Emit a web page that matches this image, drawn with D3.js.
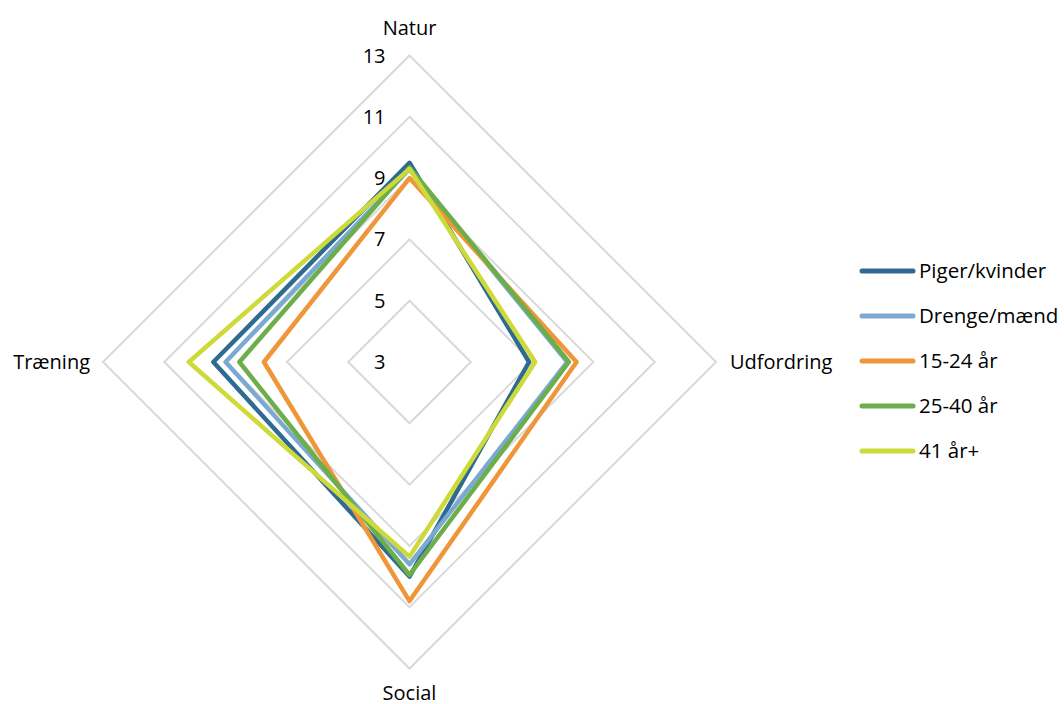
<!DOCTYPE html>
<html>
<head>
<meta charset="utf-8">
<script src="https://cdn.jsdelivr.net/npm/d3@7"></script>
<style>
  body { margin: 0; background: #fff; }
  svg { font-family: "Open Sans", sans-serif; }
</style>
</head>
<body>
<div id="grafRadar"></div>
<script>
// kategorier (akser) i urets retning fra toppen
const kategorier = ["Natur", "Udfordring", "Social", "Træning"]
const serier = ["Piger/kvinder", "Drenge/mænd", "15-24 år", "25-40 år", "41 år+"]
const farver = ["#2F6B91", "#7BA9D2", "#F0963A", "#6BAE4A", "#CDDA3A"]

// værdier pr. serie, samme rækkefølge som kategorier
const pigerKvinder = [9.5, 6.9, 10.0, 9.4]
const drengeMaend = [9.3, 8.15, 9.6, 9.0]
const aar15_24 = [9.0, 8.45, 10.8, 7.75]
const aar25_40 = [9.35, 8.2, 9.95, 8.55]
const aar41plus = [9.3, 7.1, 9.35, 10.2]

const ticks = [3, 5, 7, 9, 11, 13]

const data = [pigerKvinder, drengeMaend, aar15_24, aar25_40, aar41plus]

const W = 1064, H = 704
const cx = 409.5, cy = 362

const svg = d3.select("#grafRadar")
  .append("svg")
  .attr("width", W)
  .attr("height", H)

const g = svg.append("g").attr("transform", `translate(${cx}, ${cy})`)

const r = d3.scaleLinear().domain([3, 13]).range([0, 306.5])
const angulo = d3.scalePoint().domain(kategorier).range([0, 2 * Math.PI * 3 / 4])

const punkt = (cat, v) => {
  const a = angulo(cat) - Math.PI / 2
  return [Math.cos(a) * r(v), Math.sin(a) * r(v)]
}

const linje = d3.line().curve(d3.curveLinearClosed)

// gitter
g.selectAll(".ring")
  .data(ticks.slice(1))
  .enter()
  .append("path")
  .attr("class", "ring")
  .attr("d", (t) => linje(kategorier.map((c) => punkt(c, t))))
  .attr("fill", "none")
  .attr("stroke", "#D9D9D9")
  .attr("stroke-width", 2)

// tick labels
g.selectAll(".tick")
  .data(ticks)
  .enter()
  .append("text")
  .attr("class", "tick")
  .attr("x", -24)
  .attr("y", (t) => -r(t))
  .attr("dy", "0.35em")
  .attr("text-anchor", "end")
  .attr("font-size", 20)
  .attr("fill", "#000")
  .text((t) => t)

// serier
g.selectAll(".serie")
  .data(data)
  .enter()
  .append("path")
  .attr("class", "serie")
  .attr("d", (d) => linje(kategorier.map((c, i) => punkt(c, d[i]))))
  .attr("fill", "none")
  .attr("stroke", (d, i) => farver[i])
  .attr("stroke-width", 4.5)
  .attr("stroke-linejoin", "round")

// akse-navne
const labelPos = {
  "Natur": { x: 0, y: -r(13) - 28, anchor: "middle" },
  "Udfordring": { x: r(13) + 14, y: 0, anchor: "start" },
  "Social": { x: 0, y: r(13) + 24, anchor: "middle" },
  "Træning": { x: -r(13) - 13, y: 0, anchor: "end" }
}
g.selectAll(".kat")
  .data(kategorier)
  .enter()
  .append("text")
  .attr("class", "kat")
  .attr("x", (d) => labelPos[d].x)
  .attr("y", (d) => labelPos[d].y)
  .attr("dy", "0.35em")
  .attr("text-anchor", (d) => labelPos[d].anchor)
  .attr("font-size", 20)
  .text((d) => d)

// legend
const legend = svg.append("g").attr("transform", "translate(860, 271)")
const leg = legend.selectAll(".leg")
  .data(serier)
  .enter()
  .append("g")
  .attr("transform", (d, i) => `translate(0, ${i * 45})`)
leg.append("line")
  .attr("x1", 2).attr("x2", 53)
  .attr("stroke", (d, i) => farver[i])
  .attr("stroke-width", 5)
  .attr("stroke-linecap", "round")
leg.append("text")
  .attr("x", 59)
  .attr("dy", "0.35em")
  .attr("font-size", 20.5)
  .text((d) => d)
</script>
</body>
</html>
